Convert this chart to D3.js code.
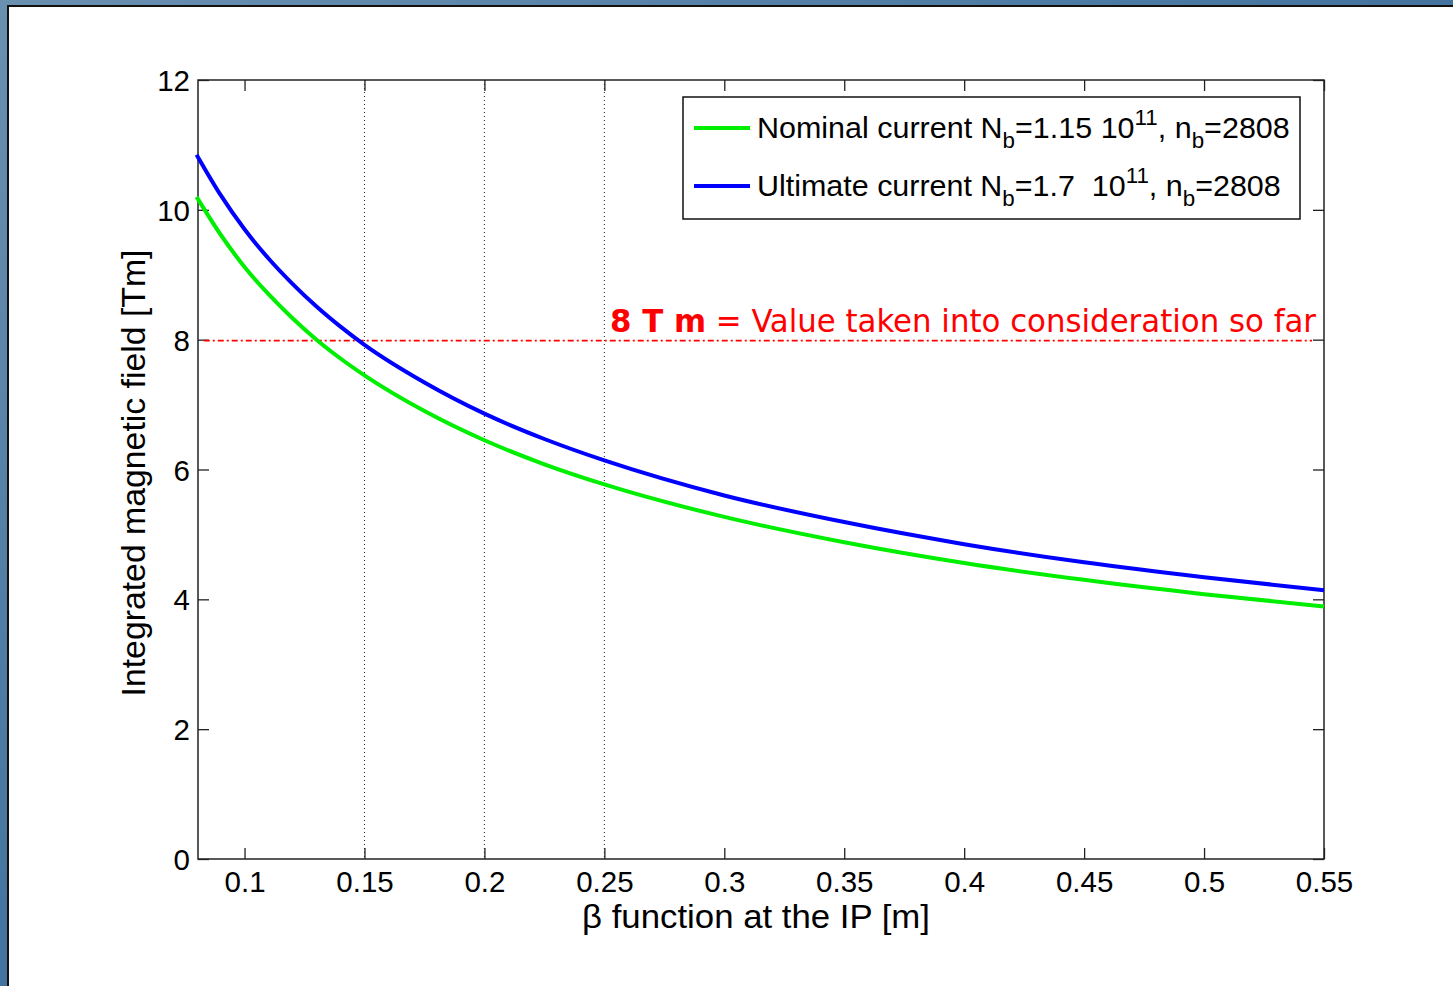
<!DOCTYPE html>
<html>
<head>
<meta charset="utf-8">
<script src="https://cdn.jsdelivr.net/npm/d3@7.9.0/dist/d3.min.js"></script>
<style>
  body { margin: 0; overflow: hidden; background: #fff; }
  text { font-family: "Liberation Sans", Arial, sans-serif; }
</style>
</head>
<body>
<svg id="chart" width="1453" height="986"></svg>
<script>
// beta values
const beta = [0.08, 0.09, 0.10, 0.11, 0.12, 0.13, 0.14, 0.15, 0.175, 0.2, 0.225, 0.25, 0.3, 0.35, 0.4, 0.45, 0.5, 0.55];
const nominal = [10.2, 9.62, 9.12, 8.70, 8.33, 8.00, 7.71, 7.45, 6.90, 6.45, 6.08, 5.77, 5.27, 4.88, 4.56, 4.30, 4.08, 3.89];
const ultimate = [10.85, 10.23, 9.70, 9.25, 8.86, 8.51, 8.20, 7.92, 7.34, 6.86, 6.47, 6.14, 5.60, 5.19, 4.85, 4.57, 4.34, 4.14];
const xTicks = [0.1, 0.15, 0.2, 0.25, 0.3, 0.35, 0.4, 0.45, 0.5, 0.55];
const yTicks = [0, 2, 4, 6, 8, 10, 12];
const gridX = [0.15, 0.2, 0.25];
const limit = 8;

const svg = d3.select('#chart');

// window frame
let grad = svg.append('defs').append('linearGradient')
  .attr('id', 'frame').attr('x1', 0).attr('y1', 0).attr('x2', 1).attr('y2', 1);
grad.append('stop').attr('offset', 0).attr('stop-color', '#6a90b0');
grad.append('stop').attr('offset', 1).attr('stop-color', '#1c568c');
svg.append('rect').attr('width', 1453).attr('height', 986).attr('fill', 'url(#frame)');
svg.append('rect').attr('x', 8).attr('y', 6).attr('width', 1453).attr('height', 986).attr('fill', '#fff');
svg.append('path').attr('d', 'M8,986V6H1453').attr('fill', 'none').attr('stroke', '#111').attr('stroke-width', 2);

const pLeft = 198, pRight = 1324, pTop = 80, pBottom = 859;
const x = d3.scaleLinear().domain([0.0806, 0.55]).range([pLeft, pRight]);
const y = d3.scaleLinear().domain([0, 12]).range([pBottom, pTop]);

// dotted grid lines
svg.append('g').selectAll('line').data(gridX).join('line')
  .attr('x1', d => x(d)).attr('x2', d => x(d))
  .attr('y1', pTop).attr('y2', pBottom)
  .attr('stroke', '#222').attr('stroke-width', 1).attr('stroke-dasharray', '1,3');

// axes: ticks inside, mirrored on all sides
const tickLen = 11;
const fmt = d => String(d);
const gx = svg.append('g').attr('transform', `translate(0,${pBottom})`)
  .call(d3.axisBottom(x).tickValues(xTicks).tickSize(-tickLen).tickPadding(12).tickFormat(fmt));
const gxt = svg.append('g').attr('transform', `translate(0,${pTop})`)
  .call(d3.axisTop(x).tickValues(xTicks).tickSize(-tickLen).tickFormat(''));
const gy = svg.append('g').attr('transform', `translate(${pLeft},0)`)
  .call(d3.axisLeft(y).tickValues(yTicks).tickSize(-tickLen).tickPadding(8).tickFormat(fmt));
const gyr = svg.append('g').attr('transform', `translate(${pRight},0)`)
  .call(d3.axisRight(y).tickValues(yTicks).tickSize(-tickLen).tickFormat(''));
[gx, gxt, gy, gyr].forEach(g => {
  g.select('.domain').remove();
  g.selectAll('line').attr('stroke', '#222').attr('stroke-width', 1.3);
  g.selectAll('text').attr('font-size', 29.5).attr('fill', '#000')
    .attr('font-family', '"Liberation Sans", Arial, sans-serif');
});
gy.selectAll('text').attr('dy', '0.36em');

svg.append('rect').attr('x', pLeft).attr('y', pTop)
  .attr('width', pRight - pLeft).attr('height', pBottom - pTop)
  .attr('fill', 'none').attr('stroke', '#222').attr('stroke-width', 1.5);

// 8 Tm limit
svg.append('line')
  .attr('x1', x(0.083)).attr('x2', x(0.545))
  .attr('y1', y(limit) + 1).attr('y2', y(limit) + 1)
  .attr('stroke', '#ff0000').attr('stroke-width', 1.6).attr('stroke-dasharray', '6,3,2,3');

const redText = svg.append('text')
  .attr('x', 1316).attr('y', y(limit) - 8)
  .attr('text-anchor', 'end').attr('fill', '#ff0000')
  .attr('font-size', 32)
  .style('font-family', '"DejaVu Sans Condensed", "DejaVu Sans", sans-serif')
  .attr('textLength', 706).attr('lengthAdjust', 'spacingAndGlyphs');
redText.append('tspan').attr('font-weight', 'bold').text('8 T m');
redText.append('tspan').text(' = Value taken into consideration so far');

// curves
const line = d3.line().x(d => x(d[0])).y(d => y(d[1])).curve(d3.curveMonotoneX);
const series = [
  { values: nominal, color: '#00ee00' },
  { values: ultimate, color: '#0000ff' }
];
series.forEach(s => {
  svg.append('path')
    .datum(beta.map((b, i) => [b, s.values[i]]))
    .attr('d', line)
    .attr('fill', 'none').attr('stroke', s.color).attr('stroke-width', 4);
});

// legend
const lg = svg.append('g');
lg.append('rect').attr('x', 683).attr('y', 97).attr('width', 617).attr('height', 122)
  .attr('fill', '#fff').attr('stroke', '#111').attr('stroke-width', 1.5);
const entries = [
  { color: '#00ee00', nb: '=1.15 10', yy: 128, w: 533 },
  { color: '#0000ff', nb: '=1.7  10', yy: 186, w: 524 }
];
const labels = ['Nominal current N', 'Ultimate current N'];
entries.forEach((e, i) => {
  lg.append('line').attr('x1', 694).attr('x2', 750).attr('y1', e.yy).attr('y2', e.yy)
    .attr('stroke', e.color).attr('stroke-width', 4);
  const t = lg.append('text').attr('x', 757).attr('y', e.yy + 10)
    .attr('font-size', 30).attr('fill', '#000')
    .style('white-space', 'pre');
  t.append('tspan').text(labels[i]);
  t.append('tspan').attr('font-size', 22).attr('dy', 10).text('b');
  t.append('tspan').attr('dy', -10).text(e.nb);
  t.append('tspan').attr('font-size', 22).attr('dy', -13).text('11');
  t.append('tspan').attr('dy', 13).text(', n');
  t.append('tspan').attr('font-size', 22).attr('dy', 10).text('b');
  t.append('tspan').attr('dy', -10).text('=2808');
  // stretch to the width seen in the reference
  const w = t.node().getComputedTextLength();
  if (w > 0) t.attr('transform', `translate(757,0) scale(${e.w / w},1) translate(-757,0)`);
});

// axis titles
svg.append('text').attr('x', 756).attr('y', 928).attr('text-anchor', 'middle')
  .attr('font-size', 33).attr('fill', '#000')
  .attr('textLength', 348).attr('lengthAdjust', 'spacingAndGlyphs')
  .text('β function at the IP [m]');
svg.append('text').attr('transform', `translate(145,473) rotate(-90)`)
  .attr('text-anchor', 'middle').attr('font-size', 33).attr('fill', '#000')
  .attr('textLength', 447).attr('lengthAdjust', 'spacingAndGlyphs')
  .text('Integrated magnetic field [Tm]');
</script>
</body>
</html>
